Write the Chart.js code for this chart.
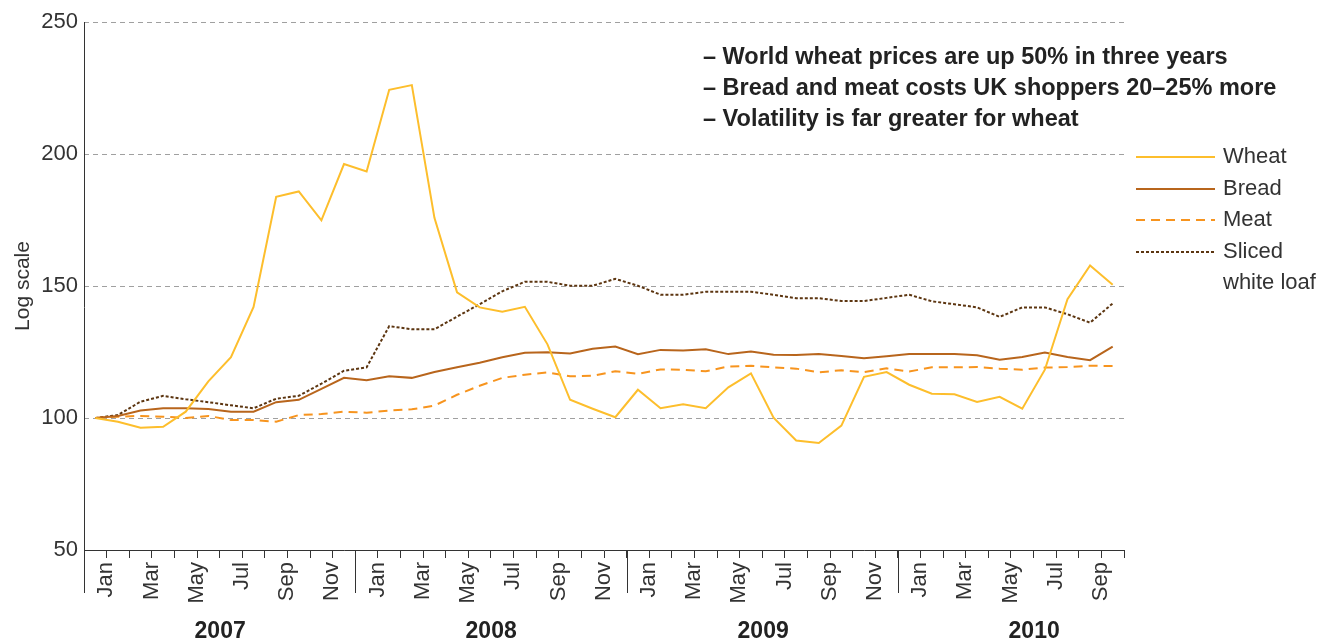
<!DOCTYPE html>
<html>
<head>
<meta charset="utf-8">
<script src="https://cdn.jsdelivr.net/npm/chart.js@4.4.0/dist/chart.umd.min.js"></script>
<style>
html, body { margin: 0; padding: 0; background: #fff; }
#wrap { position: relative; width: 1338px; height: 642px; }
</style>
</head>
<body>
<div id="wrap"><canvas id="myChart"></canvas></div>
<script>
// months Jan 2007 .. Oct 2010
const monthNames = ['Jan','Feb','Mar','Apr','May','Jun','Jul','Aug','Sep','Oct','Nov','Dec'];
const years = ['2007', '2008', '2009', '2010'];
const monthCount = 46;

const seriesNames = ['Wheat', 'Bread', 'Meat', 'Sliced\nwhite loaf'];

const wheat = [100, 98.6, 96.3, 96.7, 102.4, 113.9, 123, 142.1, 183.8, 185.8, 174.9, 196.2,
  193.4, 224.3, 226.1, 175.8, 147.6, 141.9, 140.3, 142.1, 127.9, 106.9, 103.5, 100.3,
  110.7, 103.7, 105.2, 103.7, 111.6, 116.9, 100.1, 91.5, 90.5, 97.1, 115.6, 117.4,
  112.6, 109.2, 109, 106.1, 108, 103.5, 118.3, 145, 157.8, 150.5];
const bread = [100, 100.8, 102.8, 103.7, 103.7, 103.4, 102.4, 102.4, 106, 106.9, 111, 115.2,
  114.3, 115.8, 115.2, 117.4, 119.2, 120.9, 123, 124.7, 124.9, 124.4, 126.2, 127.1,
  124.2, 125.8, 125.6, 126, 124.2, 125.2, 124, 123.9, 124.2, 123.5, 122.6, 123.4,
  124.2, 124.2, 124.2, 123.8, 122.1, 123.1, 124.8, 123.1, 121.9, 127];
const meat = [100, 100.5, 100.8, 100.5, 100, 100.8, 99.2, 99.2, 98.6, 101.1, 101.5, 102.4,
  102, 102.8, 103.3, 104.7, 108.8, 112.2, 115.2, 116.4, 117.3, 115.8, 116, 117.7,
  116.7, 118.4, 118.3, 117.7, 119.5, 119.8, 119.2, 118.7, 117.3, 118.1, 117.4, 118.8,
  117.6, 119.2, 119.2, 119.3, 118.7, 118.3, 119.1, 119.3, 119.8, 119.7];
const sliced = [100, 101.1, 106.2, 108.4, 107.1, 106, 104.8, 103.7, 107.3, 108.4, 113, 117.9,
  119.2, 134.8, 133.6, 133.6, 138.4, 143.1, 148, 151.6, 151.6, 150.1, 150.1, 152.7,
  150.1, 146.7, 146.7, 147.8, 147.8, 147.8, 146.7, 145.4, 145.4, 144.3, 144.3, 145.5,
  146.7, 144.2, 143.1, 141.9, 138.3, 141.9, 141.9, 139.3, 136.1, 143.4];

const notes = [
  '\u2013 World wheat prices are up 50% in three years',
  '\u2013 Bread and meat costs UK shoppers 20\u201325% more',
  '\u2013 Volatility is far greater for wheat'
];

const labels = [];
for (let i = 0; i < monthCount; i++) {
  labels.push(monthNames[i % 12]);
}

const FONT = "'Liberation Sans', Arial, sans-serif";

// year labels, long year ticks, legend and the notes
const extras = {
  id: 'extras',
  afterDraw(chart) {
    const ctx = chart.ctx;
    const area = chart.chartArea;
    const x = chart.scales.x;
    const band = x.getPixelForValue(1) - x.getPixelForValue(0);
    ctx.save();
    ctx.setLineDash([]);
    ctx.strokeStyle = '#333';
    ctx.lineWidth = 1;
    ctx.fillStyle = '#222';
    ctx.font = 'bold 23px ' + FONT;
    ctx.textAlign = 'center';
    ctx.textBaseline = 'middle';
    years.forEach((yr, k) => {
      const left = Math.round(x.getPixelForValue(k * 12) - band / 2) + 0.5;
      ctx.beginPath();
      ctx.moveTo(left, k === 0 ? area.top : area.bottom);
      ctx.lineTo(left, area.bottom + 43);
      ctx.stroke();
      ctx.fillText(yr, left + band * 6, 632);
    });

    // legend
    const rows = [157, 189, 220, 252];
    ctx.font = '22px ' + FONT;
    ctx.textAlign = 'left';
    chart.data.datasets.forEach((ds, i) => {
      ctx.save();
      ctx.strokeStyle = ds.borderColor;
      ctx.lineWidth = ds.borderWidth;
      ctx.setLineDash(ds.borderDash || []);
      ctx.beginPath();
      ctx.moveTo(1136, rows[i]);
      ctx.lineTo(1215, rows[i]);
      ctx.stroke();
      ctx.restore();
      ctx.fillStyle = '#333';
      seriesNames[i].split('\n').forEach((t, j) => {
        ctx.fillText(t, 1223, rows[i] + j * 31);
      });
    });

    // notes
    ctx.font = 'bold 23.5px ' + FONT;
    ctx.fillStyle = '#222';
    notes.forEach((t, i) => {
      ctx.fillText(t, 703, 58 + i * 31);
    });
    ctx.restore();
  }
};

var ctx = document.getElementById('myChart').getContext('2d');

var chart = new Chart(ctx, {
  type: 'line',
  data: {
    labels: labels,
    datasets: [
      { label: 'Wheat', data: wheat, borderColor: '#FDBE2C', borderWidth: 2 },
      { label: 'Bread', data: bread, borderColor: '#B8651C', borderWidth: 2 },
      { label: 'Meat', data: meat, borderColor: '#F7941E', borderWidth: 2, borderDash: [9, 6] },
      { label: 'Sliced white loaf', data: sliced, borderColor: '#5C3510', borderWidth: 2, borderDash: [3, 2] }
    ]
  },
  options: {
    responsive: true,
    maintainAspectRatio: false,
    animation: false,
    layout: { padding: { top: 22, right: 214, left: 0, bottom: 0 } },
    elements: {
      point: { radius: 0 },
      line: { tension: 0 }
    },
    plugins: {
      legend: { display: false },
      tooltip: { enabled: false }
    },
    scales: {
      x: {
        offset: true,
        afterFit: (s) => { s.height = 92; },
        border: { display: true, color: '#333', width: 1 },
        grid: { offset: true, drawOnChartArea: false, tickLength: 8, color: '#333' },
        ticks: {
          autoSkip: false,
          minRotation: 90,
          maxRotation: 90,
          labelOffset: 11,
          padding: 4,
          color: '#333',
          font: { family: FONT, size: 22 },
          callback: function (v, i) { return i % 2 === 0 ? this.getLabelForValue(v) : ''; }
        }
      },
      y: {
        min: 50,
        max: 250,
        afterFit: (s) => { s.width = 84; },
        border: { display: false, dash: [5, 4] },
        grid: { color: '#a0a0a0', drawTicks: false },
        ticks: {
          stepSize: 50,
          padding: 6,
          color: '#333',
          font: { family: FONT, size: 22 }
        },
        title: {
          display: true,
          text: 'Log scale',
          color: '#333',
          font: { family: FONT, size: 21 },
          padding: { top: 11, bottom: 0 }
        }
      }
    }
  },
  plugins: [extras]
});
</script>
</body>
</html>
